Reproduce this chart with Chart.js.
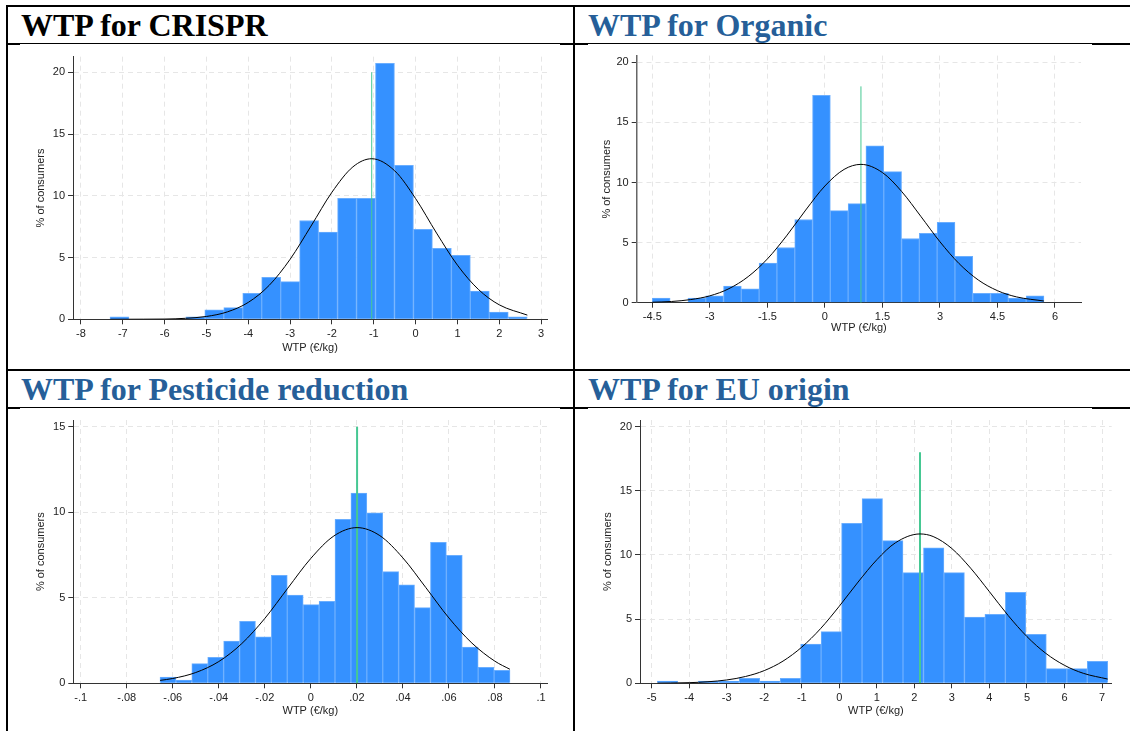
<!DOCTYPE html>
<html>
<head>
<meta charset="utf-8">
<script src="https://cdn.jsdelivr.net/npm/chart.js@4.4.1/dist/chart.umd.min.js"></script>
<style>
  body { margin: 0; width: 1130px; height: 731px; position: relative; background: #fff; overflow: hidden; }
  .rule { position: absolute; background: #000; }
  .title { position: absolute; font: bold 32px 'Liberation Serif', 'Times New Roman', serif; line-height: 1; white-space: nowrap; }
  .blue { color: #265f99; }
  canvas { position: absolute; }
</style>
</head>
<body>
<div class="rule" style="left:6px;top:5px;width:1124px;height:2px"></div>
<div class="rule" style="left:6px;top:5px;width:2px;height:726px"></div>
<div class="rule" style="left:573px;top:5px;width:2px;height:726px"></div>
<div class="rule" style="left:6px;top:369px;width:1124px;height:2px"></div>
<div class="rule" style="left:8px;top:43px;width:1122px;height:1px"></div>
<div class="rule" style="left:8px;top:407px;width:1122px;height:1px"></div>
<div class="rule" style="left:8px;top:43px;width:12px;height:2px"></div>
<div class="rule" style="left:560px;top:43px;width:28px;height:2px"></div>
<div class="rule" style="left:1092px;top:43px;width:38px;height:2px"></div>
<div class="rule" style="left:8px;top:407px;width:12px;height:2px"></div>
<div class="rule" style="left:560px;top:407px;width:28px;height:2px"></div>
<div class="rule" style="left:1092px;top:407px;width:38px;height:2px"></div>

<div class="title" style="left:21px;top:9px">WTP for CRISPR</div>
<div class="title blue" style="left:588px;top:9px">WTP for Organic</div>
<div class="title blue" style="left:21px;top:373px">WTP for Pesticide reduction</div>
<div class="title blue" style="left:588px;top:373px">WTP for EU origin</div>

<canvas id="crispr"></canvas>
<canvas id="organic"></canvas>
<canvas id="pesticide"></canvas>
<canvas id="euorigin"></canvas>

<script>
// histogram bins (bin centres, €/kg) and % of consumers
const crisprBins = [-7.079, -6.626, -6.173, -5.719, -5.266, -4.813, -4.359, -3.906, -3.453, -2.999, -2.546,
  -2.093, -1.639, -1.186, -0.733, -0.279, 0.174, 0.627, 1.081, 1.534, 1.987, 2.441];
const crisprPct = [0.2, null, null, null, 0.2, 0.76, 0.94, 2.1, 3.4, 3.05, 8.0,
  7.07, 9.8, 9.8, 20.73, 12.47, 7.29, 5.75, 5.18, 2.29, 0.59, 0.19];
const crisprCurveX = [-7.3, -6.5, -6, -5.5, -5, -4.5, -4, -3.5, -3, -2.5, -2, -1.5, -1.05, -0.5, 0, 0.5, 1, 1.5, 2, 2.67];
const crisprCurveY = [0.0, 0.01, 0.02, 0.08, 0.23, 0.60, 1.37, 2.75, 4.86, 7.55, 10.29, 12.34, 13.0, 12.02, 9.77, 6.98, 4.38, 2.42, 1.17, 0.34];
const crisprMean = -1.05;
const crisprMeanTop = 20;
const crisprXTicks = [-8, -7, -6, -5, -4, -3, -2, -1, 0, 1, 2, 3];
const crisprXLabels = ['-8', '-7', '-6', '-5', '-4', '-3', '-2', '-1', '0', '1', '2', '3'];
const crisprYTicks = [0, 5, 10, 15, 20];

const organicBins = [-4.268, -3.804, -3.339, -2.875, -2.411, -1.947, -1.483, -1.019, -0.554, -0.090, 0.374,
  0.838, 1.302, 1.767, 2.231, 2.695, 3.159, 3.623, 4.087, 4.552, 5.016, 5.480];
const organicPct = [0.39, null, 0.39, 0.58, 1.38, 1.16, 3.29, 4.59, 6.92, 17.26, 7.66,
  8.24, 13.06, 10.9, 5.34, 5.78, 6.69, 3.85, 0.77, 0.77, 0.39, 0.58];
const organicCurveX = [-4.5, -4, -3.5, -3, -2.5, -2, -1.5, -1, -0.5, 0, 0.5, 0.94, 1.5, 2, 2.5, 3, 3.5, 4, 4.5, 5, 5.71];
const organicCurveY = [0.04, 0.10, 0.26, 0.57, 1.17, 2.17, 3.64, 5.56, 7.71, 9.71, 11.09, 11.51, 10.83, 9.26, 7.19, 5.07, 3.25, 1.89, 1.00, 0.48, 0.14];
const organicMean = 0.94;
const organicMeanTop = 18;
const organicXTicks = [-4.5, -3, -1.5, 0, 1.5, 3, 4.5, 6];
const organicXLabels = ['-4.5', '-3', '-1.5', '0', '1.5', '3', '4.5', '6'];
const organicYTicks = [0, 5, 10, 15, 20];

const pesticideBins = [-0.06207, -0.05516, -0.04825, -0.04134, -0.03442, -0.02751, -0.02060, -0.01369, -0.00677, 0.00014, 0.00705,
  0.01396, 0.02088, 0.02779, 0.03470, 0.04161, 0.04853, 0.05544, 0.06235, 0.06926, 0.07618, 0.08309];
const pesticidePct = [0.37, 0.19, 1.15, 1.52, 2.47, 3.62, 2.71, 6.31, 5.16, 4.60, 4.79,
  9.58, 11.12, 9.97, 6.53, 5.75, 4.42, 8.24, 7.48, 2.12, 0.94, 0.76];
const pesticideCurveX = [-0.0655, -0.06, -0.05, -0.04, -0.03, -0.02, -0.01, 0, 0.01, 0.0201, 0.03, 0.04, 0.05, 0.06, 0.07, 0.08, 0.0865];
const pesticideCurveY = [0.17, 0.28, 0.63, 1.27, 2.32, 3.79, 5.56, 7.30, 8.61, 9.10, 8.63, 7.33, 5.59, 3.82, 2.35, 1.29, 0.82];
const pesticideMean = 0.0201;
const pesticideMeanTop = 15;
const pesticideXTicks = [-0.1, -0.08, -0.06, -0.04, -0.02, 0, 0.02, 0.04, 0.06, 0.08, 0.1];
const pesticideXLabels = ['-.1', '-.08', '-.06', '-.04', '-.02', '0', '.02', '.04', '.06', '.08', '.1'];
const pesticideYTicks = [0, 5, 10, 15];

const euBins = [-4.576, -4.031, -3.485, -2.940, -2.394, -1.849, -1.303, -0.758, -0.212, 0.333, 0.879,
  1.424, 1.970, 2.515, 3.061, 3.606, 4.152, 4.697, 5.243, 5.788, 6.334, 6.879];
const euPct = [0.18, null, 0.18, 0.18, 0.39, 0.18, 0.39, 3.06, 4.03, 12.47, 14.39,
  11.12, 8.62, 10.55, 8.62, 5.17, 5.38, 7.09, 3.82, 1.14, 1.14, 1.71];
const euCurveX = [-4.85, -4.5, -4, -3.5, -3, -2.5, -2, -1.5, -1, -0.5, 0, 0.5, 1, 1.5, 2.15, 2.5, 3, 3.5, 4, 4.5, 5, 5.5, 6, 6.5, 7.15];
const euCurveY = [0.01, 0.02, 0.05, 0.12, 0.26, 0.53, 0.99, 1.73, 2.82, 4.26, 6.01, 7.89, 9.63, 10.96, 11.64, 11.44, 10.50, 8.97, 7.14, 5.28, 3.64, 2.34, 1.40, 0.78, 0.33];
const euMean = 2.15;
const euMeanTop = 18;
const euXTicks = [-5, -4, -3, -2, -1, 0, 1, 2, 3, 4, 5, 6, 7];
const euXLabels = ['-5', '-4', '-3', '-2', '-1', '0', '1', '2', '3', '4', '5', '6', '7'];
const euYTicks = [0, 5, 10, 15, 20];

const FONT = "'Liberation Sans', Arial, Helvetica, sans-serif";
const BAR_BLUE = '#3591ff';
const BAR_EDGE = '#6aaeff';
const MEAN_GREEN = '#46c893';

function drawPanel(p) {
  const cv = document.getElementById(p.id);
  cv.width = p.box.w;
  cv.height = p.box.h;
  cv.style.left = p.box.x + 'px';
  cv.style.top = p.box.y + 'px';

  const pad = {
    left: p.area.l - p.box.x - p.yW,
    right: p.box.x + p.box.w - p.area.r,
    top: p.area.t - p.box.y,
    bottom: p.box.y + p.box.h - p.area.b - p.xH
  };

  new Chart(cv, {
    type: 'bar',
    data: {
      datasets: [
        {
          type: 'line',
          data: p.curveX.map((x, i) => ({ x: x, y: p.curveY[i] })),
          borderColor: '#000',
          borderWidth: 1,
          pointRadius: 0,
          cubicInterpolationMode: 'monotone',
          order: 0
        },
        {
          type: 'line',
          data: [{ x: p.mean, y: 0 }, { x: p.mean, y: p.meanTop }],
          borderColor: MEAN_GREEN,
          borderWidth: p.meanW,
          pointRadius: 0,
          order: 1
        },
        {
          type: 'bar',
          data: p.bins.map((x, i) => ({ x: x, y: p.pct[i] })),
          backgroundColor: BAR_BLUE,
          borderColor: BAR_EDGE,
          borderWidth: 1,
          barPercentage: 1,
          categoryPercentage: 1,
          order: 2
        }
      ]
    },
    options: {
      responsive: false,
      animation: false,
      devicePixelRatio: 1,
      layout: { padding: pad },
      plugins: { legend: { display: false }, tooltip: { enabled: false } },
      scales: {
        x: {
          type: 'linear',
          min: p.xMin,
          max: p.xMax,
          offset: false,
          grid: { offset: false, color: '#e6e6e6', lineWidth: 1, tickColor: '#333', tickLength: 5 },
          border: { color: '#333', width: 1, dash: [5, 4] },
          ticks: {
            autoSkip: false, maxRotation: 0, padding: 3, color: '#222',
            font: { family: FONT, size: 11 },
            callback: (v, i) => p.xLabels[i]
          },
          afterBuildTicks: s => { s.ticks = p.xTicks.map(v => ({ value: v })); },
          afterFit: s => { s.height = p.xH; },
          title: { display: true, text: 'WTP (€/kg)', color: '#222', font: { family: FONT, size: 11 }, padding: 0 }
        },
        y: {
          type: 'linear',
          min: 0,
          max: p.yMax,
          grid: { color: '#e6e6e6', lineWidth: 1, tickColor: '#333', tickLength: 5 },
          border: { color: p.yAxisColor, width: p.yAxisW, dash: [5, 4] },
          ticks: {
            autoSkip: false, padding: 3, color: '#222',
            font: { family: FONT, size: 11 },
            callback: v => String(v)
          },
          afterBuildTicks: s => { s.ticks = p.yTicks.map(v => ({ value: v })); },
          afterFit: s => { s.width = p.yW; },
          title: { display: true, text: '% of consumers', color: '#222', font: { family: FONT, size: 11 }, padding: 0 }
        }
      }
    }
  });
}

document.addEventListener('DOMContentLoaded', function () {
  drawPanel({
    id: 'crispr', bins: crisprBins, pct: crisprPct, curveX: crisprCurveX, curveY: crisprCurveY,
    mean: crisprMean, meanTop: crisprMeanTop, xTicks: crisprXTicks, xLabels: crisprXLabels, yTicks: crisprYTicks,
    xMin: -8.19, xMax: 3.14, yMax: 21.26,
    box: { x: 9, y: 46, w: 563, h: 322 }, area: { l: 73, r: 547, t: 56.7, b: 319.3 },
    yW: 38.6, xH: 35.3, meanW: 1, yAxisColor: '#333', yAxisW: 1
  });
  drawPanel({
    id: 'organic', bins: organicBins, pct: organicPct, curveX: organicCurveX, curveY: organicCurveY,
    mean: organicMean, meanTop: organicMeanTop, xTicks: organicXTicks, xLabels: organicXLabels, yTicks: organicYTicks,
    xMin: -4.907, xMax: 6.678, yMax: 20.56,
    box: { x: 576, y: 46, w: 554, h: 322 }, area: { l: 636.7, r: 1081, t: 55, b: 302.7 },
    yW: 36.3, xH: 32, meanW: 1, yAxisColor: '#666', yAxisW: 1.5
  });
  drawPanel({
    id: 'pesticide', bins: pesticideBins, pct: pesticidePct, curveX: pesticideCurveX, curveY: pesticideCurveY,
    mean: pesticideMean, meanTop: pesticideMeanTop, xTicks: pesticideXTicks, xLabels: pesticideXLabels, yTicks: pesticideYTicks,
    xMin: -0.1032, xMax: 0.10275, yMax: 15.39,
    box: { x: 9, y: 410, w: 563, h: 321 }, area: { l: 73.3, r: 547.3, t: 420, b: 683.3 },
    yW: 39.4, xH: 34.3, meanW: 2, yAxisColor: '#333', yAxisW: 1
  });
  drawPanel({
    id: 'euorigin', bins: euBins, pct: euPct, curveX: euCurveX, curveY: euCurveY,
    mean: euMean, meanTop: euMeanTop, xTicks: euXTicks, xLabels: euXLabels, yTicks: euYTicks,
    xMin: -5.311, xMax: 7.258, yMax: 20.52,
    box: { x: 576, y: 410, w: 554, h: 321 }, area: { l: 640, r: 1111.7, t: 420, b: 683.3 },
    yW: 38.6, xH: 34.3, meanW: 2, yAxisColor: '#333', yAxisW: 1
  });
});
</script>
</body>
</html>
